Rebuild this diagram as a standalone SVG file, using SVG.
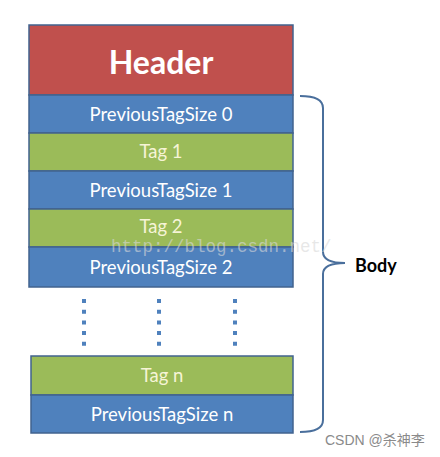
<svg xmlns="http://www.w3.org/2000/svg" width="440" height="457" viewBox="0 0 440 457">
<style>
.box{stroke:#41638f;stroke-width:1.5}
.red{fill:#c0504d}
.blue{fill:#4f81bd}
.green{fill:#9bbb59}
.lbl{font-family:Lato,"Liberation Sans",sans-serif;font-size:18.5px;text-anchor:middle;fill:#ffffff}
.tag{fill:#f6f4d6}
.dots{stroke:#4f81bd;stroke-width:4;stroke-dasharray:4 6.7}
</style>
<rect width="440" height="457" fill="#ffffff"/>
<g id="header"><rect class="box red" x="29" y="25" width="264" height="70"/><text x="161" y="74" font-family="Lato,'Liberation Sans',sans-serif" font-size="32" font-weight="bold" fill="#ffffff" text-anchor="middle">Header</text></g>
<g id="pts0"><rect class="box blue" x="29" y="95" width="264" height="38"/><text class="lbl" x="161" y="120.5">PreviousTagSize 0</text></g>
<g id="tag1"><rect class="box green" x="29" y="133" width="264" height="38"/><text class="lbl tag" x="161" y="158">Tag 1</text></g>
<g id="pts1"><rect class="box blue" x="29" y="171" width="264" height="38"/><text class="lbl" x="161" y="196.5">PreviousTagSize 1</text></g>
<g id="tag2"><rect class="box green" x="29" y="209" width="264" height="38"/><text class="lbl tag" x="161" y="233">Tag 2</text></g>
<g id="pts2"><rect class="box blue" x="29" y="247" width="264" height="40"/><text class="lbl" x="161" y="274">PreviousTagSize 2</text></g>
<g id="dots"><line class="dots" x1="84" y1="299" x2="84" y2="348"/><line class="dots" x1="159" y1="299" x2="159" y2="348"/><line class="dots" x1="235" y1="299" x2="235" y2="348"/></g>
<g id="tagn"><rect class="box green" x="31" y="356" width="262" height="39"/><text class="lbl tag" x="162" y="382">Tag n</text></g>
<g id="ptsn"><rect class="box blue" x="31" y="395" width="262" height="38"/><text class="lbl" x="162" y="420.5">PreviousTagSize n</text></g>
<g id="connectors"><path d="M300 96 Q323 96 323 108 L323 252 Q323 263 345 263 Q323 263 323 274 L323 420 Q323 432 300 432" fill="none" stroke="#4a6f9c" stroke-width="2"/></g>
<g id="body"><text x="355" y="272" font-family="Lato,'Liberation Sans',sans-serif" font-size="18" font-weight="bold" fill="#000000">Body</text></g>
<text x="111" y="252" font-family="'Liberation Mono',monospace" font-size="17.5" fill="#d8d8d8" fill-opacity="0.6">http://blog.csdn.net/</text>
<text x="325" y="445" font-family="'Liberation Sans','Noto Sans CJK SC',sans-serif" font-size="14" fill="#8a8a8a">CSDN @杀神李</text>
</svg>
